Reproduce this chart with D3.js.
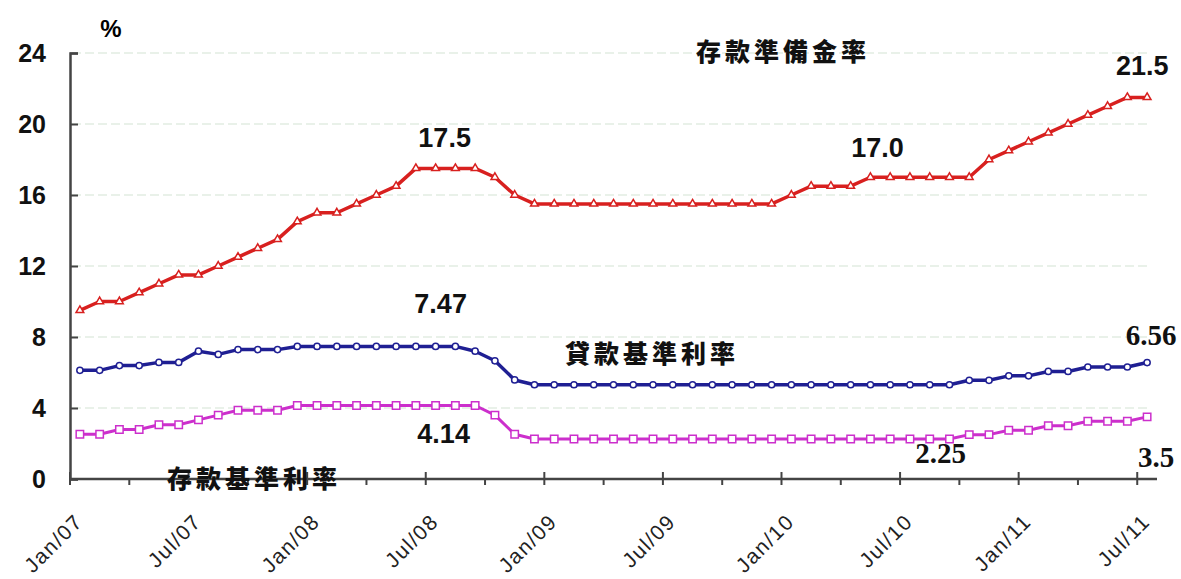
<!DOCTYPE html>
<html>
<head>
<meta charset="utf-8">
<script src="https://cdn.jsdelivr.net/npm/d3@7/dist/d3.min.js"></script>
<style>
  body { margin: 0; background: #fff; }
  svg { display: block; }
</style>
</head>
<body>
<svg id="chart" width="1181" height="579"></svg>
<script>
// monthly categories, Jan 2007 .. Jul 2011
var months = d3.timeMonth.range(new Date(2007, 0, 1), new Date(2011, 7, 1));
var tickLabels = ["Jan/07", "Jul/07", "Jan/08", "Jul/08", "Jan/09", "Jul/09",
  "Jan/10", "Jul/10", "Jan/11", "Jul/11"];
var yTicks = [0, 4, 8, 12, 16, 20, 24];

// 存款準備金率
var reserveRatio = [
  9.5, 10, 10, 10.5, 11, 11.5, 11.5, 12, 12.5, 13, 13.5, 14.5,
  15, 15, 15.5, 16, 16.5, 17.5, 17.5, 17.5, 17.5, 17, 16, 15.5,
  15.5, 15.5, 15.5, 15.5, 15.5, 15.5, 15.5, 15.5, 15.5, 15.5, 15.5, 15.5,
  16, 16.5, 16.5, 16.5, 17, 17, 17, 17, 17, 17, 18, 18.5,
  19, 19.5, 20, 20.5, 21, 21.5, 21.5
];
// 貸款基準利率
var lendingRate = [
  6.12, 6.12, 6.39, 6.39, 6.57, 6.57, 7.2, 7.02, 7.29, 7.29, 7.29, 7.47,
  7.47, 7.47, 7.47, 7.47, 7.47, 7.47, 7.47, 7.47, 7.2, 6.66, 5.58, 5.31,
  5.31, 5.31, 5.31, 5.31, 5.31, 5.31, 5.31, 5.31, 5.31, 5.31, 5.31, 5.31,
  5.31, 5.31, 5.31, 5.31, 5.31, 5.31, 5.31, 5.31, 5.31, 5.56, 5.56, 5.81,
  5.81, 6.06, 6.06, 6.31, 6.31, 6.31, 6.56
];
// 存款基準利率
var depositRate = [
  2.52, 2.52, 2.79, 2.79, 3.06, 3.06, 3.33, 3.6, 3.87, 3.87, 3.87, 4.14,
  4.14, 4.14, 4.14, 4.14, 4.14, 4.14, 4.14, 4.14, 4.14, 3.6, 2.52, 2.25,
  2.25, 2.25, 2.25, 2.25, 2.25, 2.25, 2.25, 2.25, 2.25, 2.25, 2.25, 2.25,
  2.25, 2.25, 2.25, 2.25, 2.25, 2.25, 2.25, 2.25, 2.25, 2.5, 2.5, 2.75,
  2.75, 3, 3, 3.25, 3.25, 3.25, 3.5
];

// value call-outs: text, month index, value it refers to
var callouts = [
  { text: "17.5", i: 18, v: 17.5 },
  { text: "17.0", i: 40, v: 17 },
  { text: "21.5", i: 53, v: 21.5 },
  { text: "7.47", i: 18, v: 7.47 },
  { text: "4.14", i: 18, v: 4.14 },
  { text: "6.56", i: 54, v: 6.56 },
  { text: "2.25", i: 43, v: 2.25 },
  { text: "3.5", i: 54, v: 3.5 }
];
var seriesNames = ["存款準備金率", "貸款基準利率", "存款基準利率"];

var svg = d3.select("#chart");

var x = d3.scaleBand()
  .domain(d3.range(months.length))
  .range([70, 1157])
  .padding(0);
var y = d3.scaleLinear().domain([0, 24]).range([479, 53]);
var cx = function(i) { return x(i) + x.bandwidth() / 2; };

// grid lines
svg.append("g").selectAll("line")
  .data(yTicks.filter(function(d) { return d > 0; }))
  .enter().append("line")
  .attr("x1", 72).attr("x2", 1150)
  .attr("y1", function(d) { return y(d); })
  .attr("y2", function(d) { return y(d); })
  .attr("stroke", "#d3e4d3")
  .attr("stroke-width", 1.2)
  .attr("stroke-dasharray", "9,4");

// y axis
var yAxis = svg.append("g").attr("transform", "translate(70,0)")
  .call(d3.axisRight(y).tickValues(yTicks).tickSize(8).tickFormat(""));
yAxis.select(".domain").attr("stroke", "#444").attr("stroke-width", 2.5);
yAxis.selectAll(".tick line").attr("stroke", "#444").attr("stroke-width", 2);

svg.append("g").selectAll("text")
  .data(yTicks)
  .enter().append("text")
  .attr("x", 46)
  .attr("y", function(d) { return y(d) + 9; })
  .attr("text-anchor", "end")
  .style("font", "bold 25px 'Liberation Sans', Arial, sans-serif")
  .style("fill", "#111")
  .text(function(d) { return d; });

svg.append("text")
  .attr("x", 111).attr("y", 37)
  .attr("text-anchor", "middle")
  .style("font", "bold 24px 'Liberation Sans', Arial, sans-serif")
  .text("%");

// x axis: ticks every quarter, long ones on Jan/Jul
var qIdx = d3.range(0, months.length, 3);
svg.append("line")
  .attr("x1", 70).attr("x2", 1157)
  .attr("y1", y(0)).attr("y2", y(0))
  .attr("stroke", "#444").attr("stroke-width", 2.5);
svg.append("g").selectAll("line")
  .data(qIdx)
  .enter().append("line")
  .attr("x1", function(d) { return x(d); })
  .attr("x2", function(d) { return x(d); })
  .attr("y1", function(d) { return d % 6 === 0 ? y(0) - 7 : y(0); })
  .attr("y2", y(0) + 6)
  .attr("stroke", "#444").attr("stroke-width", 2);

svg.append("g").selectAll("text")
  .data(tickLabels)
  .enter().append("text")
  .attr("transform", function(d, k) {
    return "translate(" + (x(k * 6) + 14) + ",523) rotate(-45)";
  })
  .attr("text-anchor", "end")
  .style("font", "21px 'Liberation Sans', Arial, sans-serif")
  .style("letter-spacing", "1.5px")
  .style("fill", "#222")
  .text(function(d) { return d; });

// series
var series = [
  { values: reserveRatio, color: "#d8201f", width: 3.5, symbol: d3.symbolTriangle, size: 26 },
  { values: lendingRate, color: "#1f1f93", width: 3.5, symbol: d3.symbolCircle, size: 30 },
  { values: depositRate, color: "#cc2fcc", width: 3, symbol: d3.symbolSquare, size: 55 }
];

var line = d3.line()
  .x(function(d, i) { return cx(i); })
  .y(function(d) { return y(d); });

series.forEach(function(s) {
  svg.append("path")
    .attr("d", line(s.values))
    .attr("fill", "none")
    .attr("stroke", s.color)
    .attr("stroke-width", s.width)
    .attr("stroke-linejoin", "round");

  svg.append("g").selectAll("path")
    .data(s.values)
    .enter().append("path")
    .attr("d", d3.symbol().type(s.symbol).size(s.size))
    .attr("transform", function(d, i) {
      return "translate(" + cx(i) + "," + y(d) + ")";
    })
    .attr("fill", "#fff")
    .attr("stroke", s.color)
    .attr("stroke-width", 1.5);
});

// call-out numbers
var calloutOffsets = [
  [9, -21, "sans"], [7, -20, "sans"], [15, -22, "sans"], [5, -33, "sans"],
  [8, 37, "sans"], [4, -18, "serif"], [11, 24, "serif"], [9, 50, "serif"]
];
svg.append("g").selectAll("text")
  .data(callouts)
  .enter().append("text")
  .attr("x", function(d, k) { return cx(d.i) + calloutOffsets[k][0]; })
  .attr("y", function(d, k) { return y(d.v) + calloutOffsets[k][1]; })
  .attr("text-anchor", "middle")
  .style("font", function(d, k) {
    return calloutOffsets[k][2] === "serif"
      ? "bold 29px 'Liberation Serif', 'Times New Roman', serif"
      : "bold 27px 'Liberation Sans', Arial, sans-serif";
  })
  .style("fill", "#111")
  .text(function(d) { return d.text; });

// series names
var namePos = [[783, 61], [652, 363], [254, 488]];
svg.append("g").selectAll("text")
  .data(seriesNames)
  .enter().append("text")
  .attr("x", function(d, k) { return namePos[k][0]; })
  .attr("y", function(d, k) { return namePos[k][1]; })
  .attr("text-anchor", "middle")
  .style("font", "900 25px 'Noto Sans CJK TC', 'Noto Sans CJK SC', sans-serif")
  .style("letter-spacing", "4px")
  .style("fill", "#111")
  .text(function(d) { return d; });
</script>
</body>
</html>
